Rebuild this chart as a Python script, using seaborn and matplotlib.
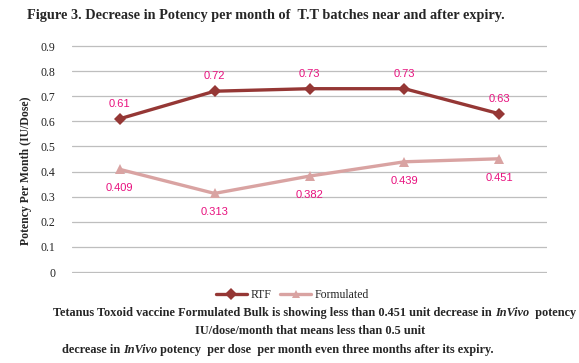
import pandas as pd
import seaborn as sns
import matplotlib.pyplot as plt
from matplotlib.lines import Line2D

# values
months = ["M1", "M2", "M3", "M4", "M5"]
rtf = [0.61, 0.72, 0.73, 0.73, 0.63]
formulated = [0.409, 0.313, 0.382, 0.439, 0.451]
rtf_labels = ["0.61", "0.72", "0.73", "0.73", "0.63"]
form_labels = ["0.409", "0.313", "0.382", "0.439", "0.451"]
yticks = [0, 0.1, 0.2, 0.3, 0.4, 0.5, 0.6, 0.7, 0.8, 0.9]

df = pd.DataFrame({
    "month": months * 2,
    "potency": rtf + formulated,
    "series": ["RTF"] * 5 + ["Formulated"] * 5,
})

sns.set_style("white")
plt.rcParams["font.family"] = ["Liberation Serif", "DejaVu Serif"]

fig = plt.figure(figsize=(5.79, 3.63), dpi=100)
ax = fig.add_axes([0.1244, 0.2479, 0.8203, 0.6281])

colors = {"RTF": "#953735", "Formulated": "#D9A3A2"}
sns.lineplot(data=df, x="month", y="potency", hue="series", style="series",
             markers={"RTF": "D", "Formulated": "^"}, dashes=False,
             palette=colors, linewidth=2.4, markersize=6.5, markeredgewidth=0,
             sort=False, ax=ax, legend=False)

ax.set_xlim(-0.5, 4.5)
ax.set_ylim(-0.004, 0.904)
ax.set_yticks(yticks)
ax.set_yticklabels(["0"] + [f"{t:.1f}" for t in yticks[1:]], fontsize=8.5, color="#222222")
ax.set_xticks([])
ax.set_xlabel("")
ax.set_ylabel("")
ax.grid(axis="y", color="#BEBEBE", linewidth=0.9)
ax.set_axisbelow(True)
ax.tick_params(axis="y", length=0, pad=12)
for s in ax.spines.values():
    s.set_visible(False)

lab_col = "#E8117F"
for i, (v, t) in enumerate(zip(rtf, rtf_labels)):
    ax.annotate(t, (i, v), xytext=(0, 7), textcoords="offset points", ha="center",
                va="bottom", fontsize=8, color=lab_col, family="Liberation Sans")
for i, (v, t) in enumerate(zip(formulated, form_labels)):
    ax.annotate(t, (i, v), xytext=(0, -10), textcoords="offset points", ha="center",
                va="top", fontsize=8, color=lab_col, family="Liberation Sans")

fig.text(0.459, 0.958, "Figure 3. Decrease in Potency per month of  T.T batches near and after expiry.",
         ha="center", va="center", fontsize=10.3, fontweight="bold")
fig.text(0.045, 0.53, "Potency Per Month (IU/Dose)", rotation=90, ha="center", va="center",
         fontsize=8.5, fontweight="bold")

# legend
handles = [Line2D([], [], color=colors["RTF"], marker="D", lw=2.4, ms=6, mew=0),
           Line2D([], [], color=colors["Formulated"], marker="^", lw=2.4, ms=6, mew=0)]
fig.legend(handles, ["RTF", "Formulated"], loc="center", bbox_to_anchor=(0.505, 0.187),
           ncol=2, frameon=False, fontsize=8.5, handlelength=2.6, columnspacing=0.8,
           handletextpad=0.3)

# footer with italic pieces
fig.canvas.draw()
renderer = fig.canvas.get_renderer()


def write_line(pieces, x0, y, align="left", size=8.8):
    texts = []
    for txt, style in pieces:
        texts.append(fig.text(0, y, txt, fontsize=size, fontweight="bold", fontstyle=style,
                              va="center", ha="left"))
    widths = [t.get_window_extent(renderer).width / fig.bbox.width for t in texts]
    total = sum(widths)
    x = x0 - total / 2 if align == "center" else x0
    for t, w in zip(texts, widths):
        t.set_x(x)
        x += w


write_line([("Tetanus Toxoid vaccine Formulated Bulk is showing less than 0.451 unit decrease in ", "normal"),
            ("InVivo", "italic"), ("  potency", "normal")], 0.092, 1 - 313 / 363)
write_line([("IU/dose/month that means less than 0.5 unit", "normal")], 0.535, 1 - 331 / 363, "center")
write_line([("decrease in ", "normal"), ("InVivo", "italic"),
            (" potency  per dose  per month even three months after its expiry.", "normal")],
           0.107, 1 - 350 / 363)

fig.savefig("out.png", dpi=100)
